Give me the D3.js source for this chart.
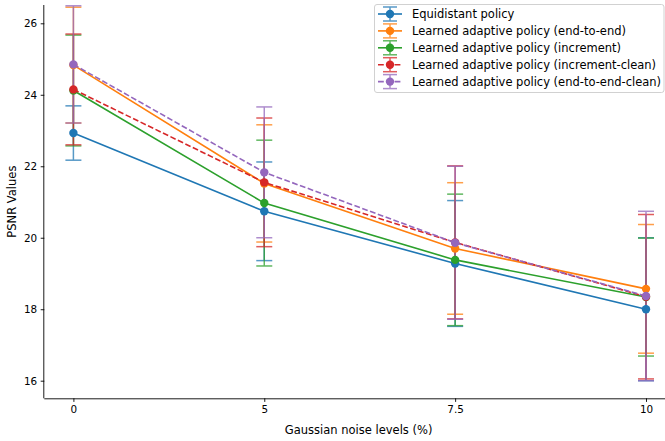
<!DOCTYPE html>
<html>
<head>
<meta charset="utf-8">
<script src="https://cdn.jsdelivr.net/npm/d3@7"></script>
<style>
  html, body { margin: 0; padding: 0; background: #fff; }
  svg { display: block; font-family: "DejaVu Sans", sans-serif; }
</style>
</head>
<body>
<svg id="chart" width="665" height="441"></svg>
<script>
// Noise levels on the x axis
const categories = ["0", "5", "7.5", "10"];

// Mean PSNR and standard deviation per policy
const equidistantMean = [22.93, 20.74, 19.28, 18.00];
const equidistantStd  = [0.76, 1.38, 1.76, 2.00];
const endToEndMean = [24.83, 21.52, 19.70, 18.57];
const endToEndStd  = [1.62, 1.64, 1.84, 1.80];
const incrementMean = [24.12, 20.97, 19.38, 18.34];
const incrementStd  = [1.55, 1.76, 1.84, 1.65];
const incrementCleanMean = [24.15, 21.55, 19.87, 18.35];
const incrementCleanStd  = [1.55, 1.80, 2.14, 2.30];
const endToEndCleanMean = [24.85, 21.83, 19.86, 18.37];
const endToEndCleanStd  = [1.64, 1.83, 2.14, 2.37];

const yTicks = [16, 18, 20, 22, 24, 26];

const series = [
  { name: "Equidistant policy", mean: equidistantMean, std: equidistantStd, color: "#1f77b4", dashed: false },
  { name: "Learned adaptive policy (end-to-end)", mean: endToEndMean, std: endToEndStd, color: "#ff7f0e", dashed: false },
  { name: "Learned adaptive policy (increment)", mean: incrementMean, std: incrementStd, color: "#2ca02c", dashed: false },
  { name: "Learned adaptive policy (increment-clean)", mean: incrementCleanMean, std: incrementCleanStd, color: "#d62728", dashed: true },
  { name: "Learned adaptive policy (end-to-end-clean)", mean: endToEndCleanMean, std: endToEndCleanStd, color: "#9467bd", dashed: true }
];

const svg = d3.select("#chart");
const plotLeft = 44.3, plotTop = 5, plotBottom = 398.3, plotRight = 665;

const x = d3.scaleLinear().domain([0, categories.length - 1]).range([73.4, 646]);
const y = d3.scaleLinear().domain([16, 26]).range([380.7, 23.3]);

const tickFont = 10.4;
const labelFont = 11.5;
const capHalf = 8;
const dash = "5.8,2.5";

// Axes
const xAxis = d3.axisBottom(x)
  .tickValues(categories.map((c, i) => i))
  .tickFormat(i => categories[i])
  .tickSize(3.6).tickPadding(3.6);
const gx = svg.append("g").attr("transform", `translate(0,${plotBottom})`).call(xAxis);
gx.select(".domain").attr("d", `M${plotLeft},0.5H${plotRight}`);

const yAxis = d3.axisLeft(y).tickValues(yTicks).tickSize(3.6).tickPadding(3.6);
const gy = svg.append("g").attr("transform", `translate(${plotLeft},0)`).call(yAxis);
gy.select(".domain").attr("d", `M-0.5,${plotTop}V${plotBottom}`);

svg.selectAll(".tick text").attr("font-size", tickFont).attr("font-family", "DejaVu Sans").attr("fill", "#000");
svg.selectAll(".tick line").attr("stroke", "#000").attr("stroke-width", 0.9);
svg.selectAll(".domain").attr("stroke", "#000").attr("stroke-width", 0.9);

// Axis titles
svg.append("text")
  .attr("x", (plotLeft + 673) / 2).attr("y", 434)
  .attr("text-anchor", "middle").attr("font-size", labelFont).attr("fill", "#000")
  .text("Gaussian noise levels (%)");
svg.append("text")
  .attr("transform", `translate(16,${(plotTop + plotBottom) / 2}) rotate(-90)`)
  .attr("text-anchor", "middle").attr("font-size", labelFont).attr("fill", "#000")
  .text("PSNR Values");

// Error bars (drawn beneath all data lines)
const bars = svg.append("g");
series.forEach(s => {
  const g = bars.append("g").attr("stroke", s.color).attr("stroke-width", 1.5).attr("opacity", 0.75).attr("fill", "none");
  s.mean.forEach((m, i) => {
    const cx = x(i), top = y(m + s.std[i]), bot = y(m - s.std[i]);
    g.append("line").attr("x1", cx).attr("x2", cx).attr("y1", top).attr("y2", bot);
    g.append("line").attr("x1", cx - capHalf).attr("x2", cx + capHalf).attr("y1", top).attr("y2", top);
    g.append("line").attr("x1", cx - capHalf).attr("x2", cx + capHalf).attr("y1", bot).attr("y2", bot);
  });
});

// Mean lines with markers
const line = d3.line().x((d, i) => x(i)).y(d => y(d));
series.forEach(s => {
  svg.append("path").datum(s.mean)
    .attr("d", line).attr("fill", "none")
    .attr("stroke", s.color).attr("stroke-width", 1.6)
    .attr("stroke-dasharray", s.dashed ? dash : null);
  svg.append("g").selectAll("circle").data(s.mean).join("circle")
    .attr("cx", (d, i) => x(i)).attr("cy", d => y(d)).attr("r", 4.2)
    .attr("fill", s.color);
});

// Legend
const lg = svg.append("g");
lg.append("rect").attr("x", 374.5).attr("y", 4.5).attr("width", 289.5).attr("height", 88)
  .attr("rx", 2.5).attr("fill", "#fff").attr("fill-opacity", 0.8)
  .attr("stroke", "#cccccc").attr("stroke-width", 0.9);
series.forEach((s, k) => {
  const cy = 14 + k * 16.9;
  const hx0 = 378, hx1 = 402, hc = 390;
  const e = lg.append("g").attr("stroke", s.color).attr("stroke-width", 1.5).attr("opacity", 0.75);
  e.append("line").attr("x1", hc).attr("x2", hc).attr("y1", cy - 7).attr("y2", cy + 7);
  e.append("line").attr("x1", hc - 7).attr("x2", hc + 7).attr("y1", cy - 7).attr("y2", cy - 7);
  e.append("line").attr("x1", hc - 7).attr("x2", hc + 7).attr("y1", cy + 7).attr("y2", cy + 7);
  lg.append("line").attr("x1", hx0).attr("x2", hx1).attr("y1", cy).attr("y2", cy)
    .attr("stroke", s.color).attr("stroke-width", 1.6)
    .attr("stroke-dasharray", s.dashed ? dash : null);
  lg.append("circle").attr("cx", hc).attr("cy", cy).attr("r", 4.2).attr("fill", s.color);
  lg.append("text").attr("x", 412).attr("y", cy).attr("dy", "0.35em")
    .attr("font-size", labelFont).attr("fill", "#000").text(s.name);
});
</script>
</body>
</html>
